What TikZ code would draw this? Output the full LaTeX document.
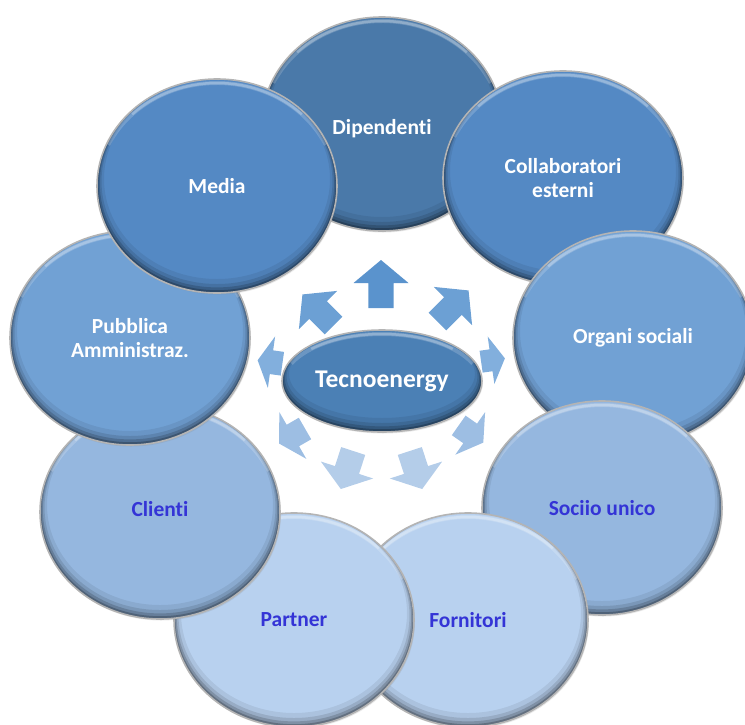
\documentclass[tikz,border=0pt]{standalone}
\usepackage{fontspec}
\setmainfont{Carlito}[Ligatures={NoCommon,NoRare,NoDiscretionary}]
\usetikzlibrary{shapes.geometric,shadows}
\definecolor{cDip}{HTML}{4A79A9}
\definecolor{cColl}{HTML}{5489C4}
\definecolor{cOrg}{HTML}{71A1D4}
\definecolor{cSoc}{HTML}{95B7DF}
\definecolor{cPart}{HTML}{B8D1EF}
\definecolor{cCen}{HTML}{4B80B5}
\definecolor{rimgray}{HTML}{B4B4B4}
\definecolor{darktext}{RGB}{52,52,214}
\definecolor{aA}{HTML}{5A93CD}
\definecolor{aB}{HTML}{6CA0D4}
\definecolor{aC}{HTML}{82AFDD}
\definecolor{aD}{HTML}{9DBEE3}
\definecolor{aE}{HTML}{B4CDE9}
\newcommand\blockarrow[7]{%
  \begin{scope}[shift={(#1,#2)},rotate=#3]
    \fill[#7] ({-#4/2},{-0.23*#5}) -- ({#4/2-#6},{-0.23*#5}) -- ({#4/2-#6},{-#5/2})
      -- ({#4/2},0) -- ({#4/2-#6},{#5/2}) -- ({#4/2-#6},{0.23*#5}) -- ({-#4/2},{0.23*#5}) -- cycle;
  \end{scope}}
\newcommand\shifttext[2]{\raisebox{#1}[\height][\depth]{#2}}
\tikzset{
  bevel/.style 2 args={path picture={
    \coordinate (pc) at (path picture bounding box.center);
    \foreach \d/\o in {7/0.07,4.5/0.11,2.8/0.16,1.4/0.22}{
      \draw[black, opacity=\o, line width=2*\d*1pt] ([yshift=\d*1pt]pc) ellipse [x radius=#1, y radius=#2];}
    \draw[white, opacity=0.18, line width=4pt] ([yshift=-4pt]pc) ++(25:#1 and #2) arc[start angle=25, end angle=155, x radius=#1, y radius=#2];
    \draw[white, opacity=0.25, line width=2.5pt] ([yshift=-4pt]pc) ++(45:#1 and #2) arc[start angle=45, end angle=135, x radius=#1, y radius=#2];
  }},
  bub/.style={ellipse, minimum width=240pt, minimum height=214pt, inner sep=0pt,
    draw=rimgray, line width=1.6pt, align=center,
    font=\fontsize{21.5}{24}\selectfont\bfseries, bevel={120pt}{107pt},
    drop shadow={shadow xshift=1pt, shadow yshift=-1.5pt, opacity=0.18}},
  cen/.style={ellipse, minimum width=200pt, minimum height=102pt, inner sep=0pt,
    draw=rimgray, line width=1.6pt, fill=cCen, text=white,
    font=\fontsize{25.5}{28}\selectfont\bfseries, bevel={100pt}{51pt},
    drop shadow={shadow xshift=1pt, shadow yshift=-1.5pt, opacity=0.18}},
}
\begin{document}
\begin{tikzpicture}[x=1pt,y=-1pt]
\useasboundingbox (0,0) rectangle (745,724);
% outer circles, drawn back to front
\node[bub, fill=cDip, text=white]  (dip)  at (382,124) {\shifttext{-5pt}{Dipendenti}};
\node[bub, fill=cColl, text=white] (coll) at (563,178) {Collaboratori\\esterni};
\node[bub, fill=cOrg, text=white]  (org)  at (633,338) {Organi sociali};
\node[bub, fill=cSoc, text=darktext] (soc) at (602,508) {Sociio unico};
\node[bub, fill=cPart, text=darktext] (forn) at (468,620) {Fornitori};
\node[bub, fill=cPart, text=darktext] (part) at (294,620) {Partner};
\node[bub, fill=cSoc, text=darktext] (cli) at (160,512) {\shifttext{3pt}{Clienti}};
\node[bub, fill=cOrg, text=white]  (pub)  at (130,338) {Pubblica\\Amministraz.};
\node[bub, fill=cColl, text=white] (med)  at (217,186) {Media};
% ring of block arrows
\blockarrow{381}{284}{90}{48}{55}{23}{aA}
\blockarrow{453}{306}{45}{44}{54}{22}{aB}
\blockarrow{318}{310}{135}{44}{54}{22}{aB}
\blockarrow{493}{360}{8}{24}{48}{14}{aC}
\blockarrow{270}{362}{172}{25}{52}{14}{aC}
\blockarrow{471}{434}{-35}{30}{52}{16}{aD}
\blockarrow{292}{436}{-150}{30}{54}{16}{aD}
\blockarrow{416}{470}{-72}{40}{55}{20}{aE}
\blockarrow{347}{470}{-108}{40}{55}{20}{aE}
% centre
\node[cen] (tec) at (382,381) {Tecnoenergy};
\end{tikzpicture}
\end{document}
